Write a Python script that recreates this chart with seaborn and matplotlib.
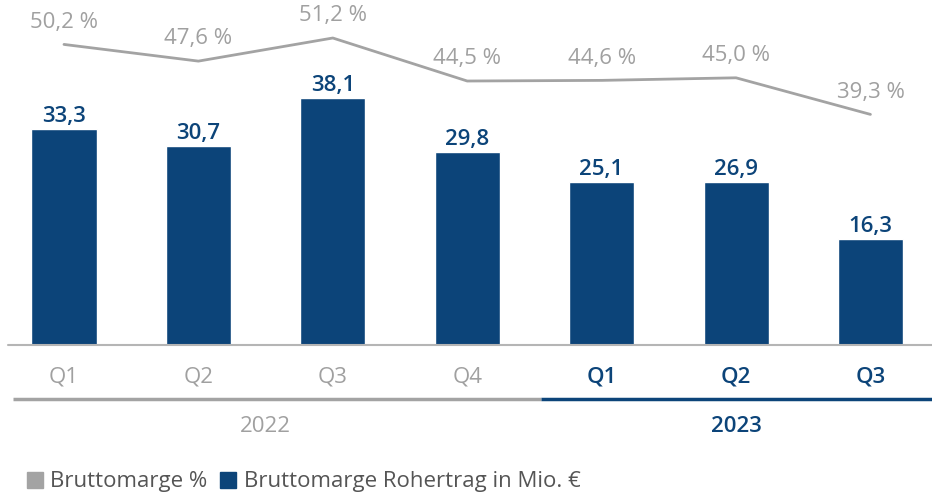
import numpy as np
import pandas as pd
import seaborn as sns
import matplotlib.pyplot as plt
from matplotlib.lines import Line2D
import matplotlib.transforms as mtransforms

quarters = ['Q1', 'Q2', 'Q3', 'Q4', 'Q1', 'Q2', 'Q3']
years = ['2022', '2022', '2022', '2022', '2023', '2023', '2023']
# bar heights as drawn in the reference (the Q2 2023 bar is drawn level with Q1 2023)
rohertrag_heights = [33.3, 30.7, 38.1, 29.8, 25.1, 25.1, 16.3]
rohertrag_labels = [33.3, 30.7, 38.1, 29.8, 25.1, 26.9, 16.3]
bruttomarge_pct = [50.2, 47.6, 51.2, 44.5, 44.6, 45.0, 39.3]

BLUE = '#0C4479'
GRAY = '#A3A3A3'
TEXT_GRAY = '#A0A0A0'
LEGEND_TEXT = '#555555'

sns.set_theme(style='white')
plt.rcParams['font.family'] = ['Open Sans', 'DejaVu Sans']

df = pd.DataFrame({
    'pos': np.arange(len(quarters)),
    'label': [q + ' ' + y for q, y in zip(quarters, years)],
    'height': rohertrag_heights,
    'pct': bruttomarge_pct,
})

fig = plt.figure(figsize=(9.32, 4.97), dpi=100)
ax = fig.add_axes([0, 1 - 345 / 497, 1, 345 / 497])

sns.barplot(data=df, x='label', y='height', color=BLUE, width=0.484,
            saturation=1, ax=ax)
ax.set_xlim(-0.476, 6.458)
ax.set_ylim(0, 53.16)
for i, (h, v) in enumerate(zip(rohertrag_heights, rohertrag_labels)):
    ax.annotate(f'{v:.1f}'.replace('.', ','), (i, h), xytext=(0, 1.5),
                textcoords='offset points', ha='center', va='bottom',
                color=BLUE, fontsize=16, fontweight='semibold')

ax2 = ax.twinx()
sns.lineplot(data=df, x='pos', y='pct', color=GRAY, linewidth=2, ax=ax2)
ax2.set_ylim(3.38, 57.12)
ax2.set_xlim(-0.476, 6.458)
for i, v in enumerate(bruttomarge_pct):
    ax2.annotate(f'{v:.1f} %'.replace('.', ','), (i, v), xytext=(0, 8.5),
                 textcoords='offset points', ha='center', va='bottom',
                 color=TEXT_GRAY, fontsize=16)

for a in (ax, ax2):
    a.set_xlabel('')
    a.set_ylabel('')
    a.set_xticks([])
    a.set_yticks([])
    for s in a.spines.values():
        s.set_visible(False)

# baseline
ax.axhline(0, xmin=8 / 932, xmax=1, color='#B5B5B5', linewidth=1.5, clip_on=False)

# quarter and year labels below the axis
trans = mtransforms.blended_transform_factory(ax.transData, fig.transFigure)
for i, (q, y) in enumerate(zip(quarters, years)):
    is_new = y == '2023'
    ax.text(i, 1 - 377 / 497, q, transform=trans, ha='center', va='center',
            fontsize=16, color=BLUE if is_new else TEXT_GRAY,
            fontweight='semibold' if is_new else 'medium')

split = 3.55
ax.plot([-0.38, split], [1 - 399 / 497] * 2, transform=trans, color=GRAY,
        linewidth=2.5, clip_on=False, solid_capstyle='butt')
ax.plot([split, 6.458], [1 - 399 / 497] * 2, transform=trans, color=BLUE,
        linewidth=2.5, clip_on=False, solid_capstyle='butt')
ax.text(1.5, 1 - 427 / 497, '2022', transform=trans, ha='center', va='center',
        fontsize=16, color=TEXT_GRAY, fontweight='medium')
ax.text(5, 1 - 427 / 497, '2023', transform=trans, ha='center', va='center',
        fontsize=16, color=BLUE, fontweight='semibold')

handles = [
    Line2D([], [], marker='s', linestyle='none', markersize=11, color=GRAY),
    Line2D([], [], marker='s', linestyle='none', markersize=11, color=BLUE),
]
leg = fig.legend(handles, ['Bruttomarge %', 'Bruttomarge Rohertrag in Mio. €'],
                 loc='lower left', bbox_to_anchor=(0.012, -0.022), ncol=2,
                 frameon=False, fontsize=16, handlelength=0.7,
                 handletextpad=0.35, columnspacing=0.6, borderpad=0.2)
for t in leg.get_texts():
    t.set_color(LEGEND_TEXT)

fig.savefig('out.png', dpi=100)
